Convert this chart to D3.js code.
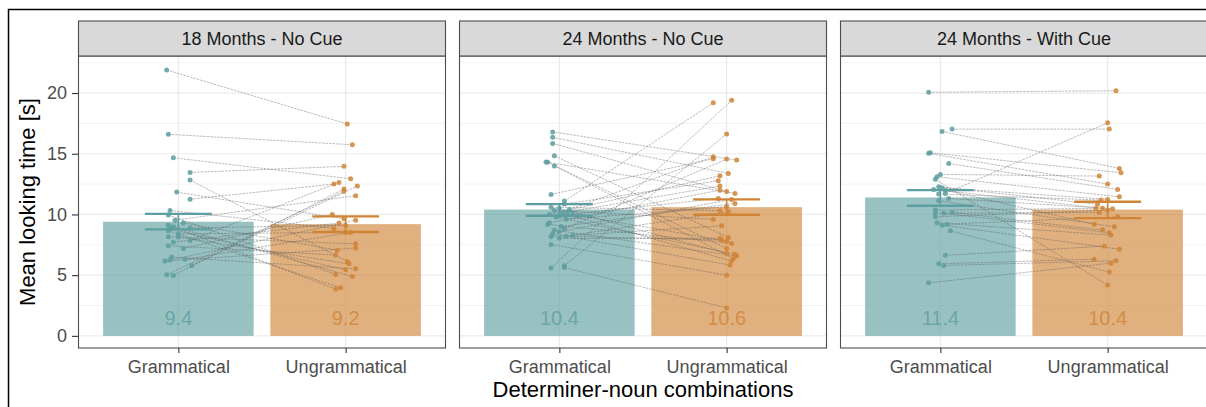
<!DOCTYPE html>
<html>
<head>
<meta charset="utf-8">
<script src="https://cdn.jsdelivr.net/npm/d3@7"></script>
<style>
  body { margin: 0; background: #fff; }
  text { font-family: "Liberation Sans", Arial, sans-serif; }
</style>
</head>
<body>
<script>
// panels and conditions
const panels = ["18 Months - No Cue", "24 Months - No Cue", "24 Months - With Cue"];
const conditions = ["Grammatical", "Ungrammatical"];
const yTicks = [0, 5, 10, 15, 20];

// bar means per panel [Grammatical, Ungrammatical]
const means = [[9.4, 9.2], [10.4, 10.6], [11.4, 10.4]];
// error bar limits per panel, per condition [low, high]
const errLow = [[8.77, 8.55], [9.89, 9.97], [10.71, 9.7]];
const errHigh = [[10.05, 9.84], [10.85, 11.24], [12.0, 11.04]];

// per-child looking times, paired by index (Grammatical -> Ungrammatical)
const gram18 = [21.9, 16.6, 14.67, 13.46, 12.83, 11.84, 11.26, 10.33, 9.95, 9.53, 9.3, 9.12, 8.98, 8.9, 8.8, 8.65, 8.4, 8.16, 8.14, 7.86, 7.72, 7.42, 7.2, 6.49, 6.3, 6.24, 6.16, 5.8, 5.03, 4.98];
const ungram18 = [17.45, 15.74, 12.94, 13.96, 6.13, 9.64, 12.5, 8.85, 5.06, 11.54, 7.06, 4.89, 3.85, 9.1, 5.44, 3.96, 8.52, 7.58, 5.93, 12.64, 9.3, 6.65, 10.0, 5.52, 8.52, 9.53, 7.23, 12.34, 11.92, 12.1];
const gram24 = [16.8, 16.35, 15.85, 14.83, 14.32, 14.3, 14.0, 11.65, 11.1, 10.85, 10.6, 10.5, 10.4, 10.35, 10.2, 10.1, 10.0, 10.0, 9.9, 9.78, 9.6, 9.31, 9.18, 9.0, 8.82, 8.7, 8.57, 8.4, 8.3, 8.21, 8.16, 8.03, 7.53, 5.58, 5.77, 5.62];
const ungram24 = [14.48, 13.38, 11.9, 8.1, 11.73, 7.2, 6.38, 14.59, 19.2, 12.77, 10.3, 6.79, 14.75, 9.59, 12.34, 6.16, 13.19, 7.8, 11.32, 6.73, 10.63, 12.0, 7.61, 10.91, 14.56, 6.57, 11.24, 5.83, 10.22, 7.89, 9.06, 8.03, 5.0, 19.4, 16.62, 2.3];
const gramCue = [20.06, 17.03, 16.84, 15.08, 15.03, 14.2, 13.3, 13.1, 12.89, 12.28, 12.2, 12.06, 12.0, 11.73, 11.68, 11.32, 11.12, 10.36, 10.17, 10.09, 10.09, 9.81, 9.31, 9.2, 9.12, 8.65, 6.63, 5.93, 5.8, 4.37];
const ungramCue = [20.19, 17.03, 13.79, 13.43, 12.5, 12.06, 13.16, 11.45, 4.18, 10.83, 11.24, 10.5, 9.2, 17.55, 11.18, 10.47, 8.98, 10.5, 8.71, 10.17, 8.49, 10.36, 8.3, 9.8, 7.14, 5.25, 7.39, 6.32, 6.18, 5.99];

// horizontal jitter, in category units
const jitGram18 = [-0.07, -0.06, -0.03, 0.07, 0.07, -0.01, 0.07, -0.05, -0.06, -0.02, 0.03, -0.06, -0.03, 0.07, -0.05, -0.06, 0.0, -0.06, 0.0, 0.07, -0.03, -0.06, 0.03, -0.04, 0.04, -0.05, -0.08, 0.08, -0.07, -0.03];
const jitUngram18 = [0.01, 0.04, 0.03, -0.01, 0.01, -0.01, -0.07, -0.07, -0.06, 0.06, -0.05, 0.04, -0.06, 0.0, 0.0, -0.03, 0.0, 0.06, 0.02, -0.04, -0.04, -0.06, -0.08, 0.06, 0.03, 0.06, 0.06, 0.07, -0.01, -0.01];
const jitGram24 = [-0.04, -0.04, -0.04, -0.03, -0.08, -0.07, -0.03, -0.05, 0.03, 0.03, -0.05, 0.0, 0.06, -0.03, 0.05, 0.02, -0.06, 0.08, 0.0, -0.02, 0.04, -0.06, -0.07, 0.01, 0.03, -0.03, 0.0, -0.04, 0.08, 0.04, -0.05, 0.0, -0.05, -0.05, 0.03, 0.03];
const jitUngram24 = [0.06, 0.01, 0.0, 0.01, 0.05, 0.0, 0.04, -0.08, -0.08, -0.05, -0.04, 0.0, -0.08, -0.08, -0.04, 0.03, -0.04, 0.0, -0.05, 0.05, 0.0, -0.04, 0.03, 0.05, 0.0, 0.06, 0.03, 0.02, 0.01, -0.03, -0.03, -0.04, 0.0, 0.03, 0.0, 0.0];
const jitGramCue = [-0.07, 0.07, 0.01, -0.06, -0.07, 0.05, 0.0, -0.02, -0.03, -0.01, 0.01, -0.04, 0.03, 0.03, -0.01, 0.05, -0.01, -0.03, 0.07, -0.03, 0.02, -0.03, -0.02, 0.04, 0.01, 0.06, 0.03, -0.01, 0.02, -0.07];
const jitUngramCue = [0.05, 0.01, 0.07, 0.08, 0.0, 0.06, -0.05, 0.07, 0.0, -0.06, 0.0, -0.03, -0.08, 0.0, -0.04, 0.03, 0.04, -0.07, -0.03, -0.05, 0.01, 0.0, 0.02, 0.06, 0.07, 0.01, -0.02, -0.08, 0.05, 0.02];

const gramAll = [gram18, gram24, gramCue];
const ungramAll = [ungram18, ungram24, ungramCue];
const jitGramAll = [jitGram18, jitGram24, jitGramCue];
const jitUngramAll = [jitUngram18, jitUngram24, jitUngramCue];

const colors = ["#5E9EA0", "#CF8436"];

const W = 1206, H = 407;
const panelW = 368, gap = 13, left = 78;
const stripTop = 21, stripH = 35, plotTop = 56, plotBottom = 348;

const svg = d3.select("body").append("svg")
  .attr("width", W).attr("height", H);

svg.append("rect").attr("width", W).attr("height", H).attr("fill", "#fff");

// outer frame
svg.append("path").attr("d", `M8.5,${H} V9.5 H${W}`)
  .attr("fill", "none").attr("stroke", "#000").attr("stroke-width", 1.5);

const y = d3.scaleLinear().domain([-1.0, 23.05]).range([plotBottom, plotTop]);
const x = d3.scalePoint().domain(conditions).range([0, panelW]).padding(0.6);
const step = x.step();

panels.forEach((name, p) => {
  const g = svg.append("g").attr("transform", `translate(${left + p * (panelW + gap)},0)`);

  // grid
  const minor = d3.range(-2.5, 25, 5).filter(v => v > y.domain()[0] && v < y.domain()[1]);
  g.selectAll(".minor").data(minor).enter().append("line")
    .attr("x1", 0).attr("x2", panelW).attr("y1", d => y(d)).attr("y2", d => y(d))
    .attr("stroke", "#EBEBEB").attr("stroke-width", 0.6);
  g.selectAll(".major").data(yTicks).enter().append("line")
    .attr("x1", 0).attr("x2", panelW).attr("y1", d => y(d)).attr("y2", d => y(d))
    .attr("stroke", "#EBEBEB").attr("stroke-width", 1.2);
  g.selectAll(".vmajor").data(conditions).enter().append("line")
    .attr("x1", d => x(d)).attr("x2", d => x(d)).attr("y1", plotTop).attr("y2", plotBottom)
    .attr("stroke", "#EBEBEB").attr("stroke-width", 1.2);

  // bars
  g.selectAll(".bar").data(conditions).enter().append("rect")
    .attr("x", d => x(d) - 0.45 * step).attr("width", 0.9 * step)
    .attr("y", (d, i) => y(means[p][i])).attr("height", (d, i) => y(0) - y(means[p][i]))
    .attr("fill", (d, i) => colors[i]).attr("fill-opacity", 0.64);

  // paired lines
  const gv = gramAll[p], uv = ungramAll[p], gj = jitGramAll[p], uj = jitUngramAll[p];
  const pairs = gv.map((v, i) => ({ g: v, u: uv[i], gj: gj[i], uj: uj[i] }));
  g.selectAll(".pair").data(pairs).enter().append("line")
    .attr("x1", d => x(conditions[0]) + d.gj * step).attr("y1", d => y(d.g))
    .attr("x2", d => x(conditions[1]) + d.uj * step).attr("y2", d => y(d.u))
    .attr("stroke", "#555").attr("stroke-width", 0.5).attr("stroke-opacity", 0.8)
    .attr("stroke-dasharray", "2.5,1");

  // points
  g.selectAll(".pg").data(pairs).enter().append("circle")
    .attr("cx", d => x(conditions[0]) + d.gj * step).attr("cy", d => y(d.g)).attr("r", 2.5)
    .attr("fill", colors[0]).attr("fill-opacity", 0.85);
  g.selectAll(".pu").data(pairs).enter().append("circle")
    .attr("cx", d => x(conditions[1]) + d.uj * step).attr("cy", d => y(d.u)).attr("r", 2.5)
    .attr("fill", colors[1]).attr("fill-opacity", 0.85);

  // error bars
  conditions.forEach((c, i) => {
    const cx = x(c), hw = 0.2 * step;
    g.append("line").attr("x1", cx).attr("x2", cx)
      .attr("y1", y(errLow[p][i])).attr("y2", y(errHigh[p][i]))
      .attr("stroke", colors[i]).attr("stroke-width", 1.6);
    [errLow[p][i], errHigh[p][i]].forEach(v => {
      g.append("line").attr("x1", cx - hw).attr("x2", cx + hw)
        .attr("y1", y(v)).attr("y2", y(v))
        .attr("stroke", colors[i]).attr("stroke-width", 2.4);
    });
  });

  // mean labels
  g.selectAll(".lab").data(conditions).enter().append("text")
    .attr("x", d => x(d)).attr("y", 325.3)
    .attr("text-anchor", "middle").attr("font-size", 20)
    .attr("fill", (d, i) => colors[i]).attr("fill-opacity", 0.8)
    .text((d, i) => means[p][i].toFixed(1));

  // panel border
  g.append("rect").attr("x", 0.5).attr("y", plotTop).attr("width", panelW - 1).attr("height", plotBottom - plotTop)
    .attr("fill", "none").attr("stroke", "#4D4D4D").attr("stroke-width", 1.1);

  // strip
  g.append("rect").attr("x", 0.5).attr("y", stripTop).attr("width", panelW - 1).attr("height", stripH)
    .attr("fill", "#D9D9D9").attr("stroke", "#4D4D4D").attr("stroke-width", 1.1);
  g.append("text").attr("x", panelW / 2).attr("y", stripTop + stripH / 2)
    .attr("dy", "0.35em").attr("text-anchor", "middle").attr("font-size", 18)
    .attr("fill", "#1A1A1A").text(name);

  // x axis
  const xa = g.append("g").attr("transform", `translate(0,${plotBottom})`)
    .call(d3.axisBottom(x).tickSize(5).tickPadding(7));
  xa.select(".domain").remove();
  xa.selectAll("line").attr("stroke", "#333").attr("stroke-width", 1.1);
  xa.selectAll("text").attr("font-size", 18).attr("fill", "#4D4D4D")
    .style("font-family", '"Liberation Sans", Arial, sans-serif');

  if (p === 0) {
    const ya = g.append("g").call(d3.axisLeft(y).tickValues(yTicks).tickSize(6).tickPadding(5));
    ya.select(".domain").remove();
    ya.selectAll("line").attr("stroke", "#333").attr("stroke-width", 1.1);
    ya.selectAll("text").attr("font-size", 18).attr("fill", "#4D4D4D")
      .style("font-family", '"Liberation Sans", Arial, sans-serif');
  }
});

// axis titles
svg.append("text").attr("x", left + (3 * panelW + 2 * gap) / 2).attr("y", 397.3)
  .attr("text-anchor", "middle").attr("font-size", 22).attr("fill", "#000")
  .text("Determiner-noun combinations");
svg.append("text").attr("transform", `translate(35,${(plotTop + plotBottom) / 2}) rotate(-90)`)
  .attr("text-anchor", "middle").attr("font-size", 22).attr("fill", "#000")
  .text("Mean looking time [s]");
</script>
</body>
</html>
